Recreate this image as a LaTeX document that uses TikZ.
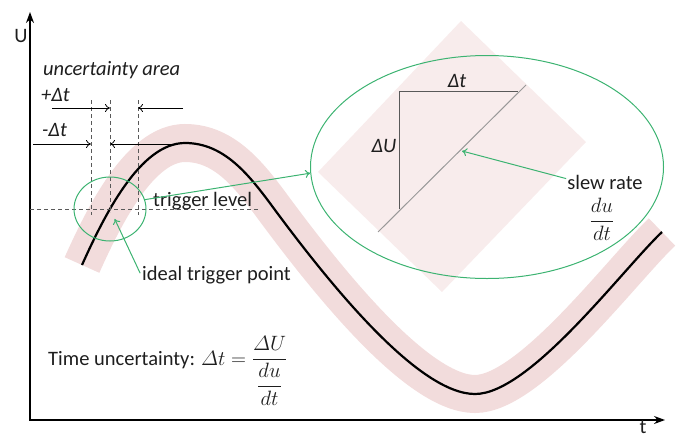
\documentclass[tikz,border=0pt]{standalone}
\usepackage{amsmath}
\usepackage{fontspec}
\setmainfont{Carlito}
\usetikzlibrary{arrows.meta,shapes.geometric,calc}
\definecolor{trgGreen}{RGB}{60,179,113}
\definecolor{bandPink}{RGB}{242,220,220}
\definecolor{zoomPink}{RGB}{248,236,236}
\definecolor{txtDark}{RGB}{30,30,30}

\begin{document}
\begin{tikzpicture}[x=1pt, y=-1pt, font=\fontsize{20.5}{24.6}\selectfont, text=txtDark]
\tikzset{
  band/.style ={draw=bandPink, line width=38pt, line cap=butt},
  wave/.style ={draw=black, line width=2.2pt},
  axis/.style ={line width=1.2pt, arrows={Stealth[length=11pt,width=8pt]-Stealth[length=11pt,width=8pt]}},
  guide/.style={draw=black!65, line width=0.9pt, dash pattern=on 4pt off 3pt},
  dimA/.style ={-{To[length=5pt,width=8pt]}, line width=0.8pt},
  gA/.style   ={-{To[length=5pt,width=8pt]}, draw=trgGreen, line width=1pt},
  ring/.style ={draw=trgGreen, line width=1pt, ellipse, inner sep=0pt},
  lbl/.style  ={inner sep=1pt, anchor=west}
}
\useasboundingbox (0,0) rectangle (682,439);
% zoomed slice of the band
\fill[zoomPink] (318,172) -- (461,21) -- (586,142) -- (442,292) -- cycle;
% signal with its uncertainty band
\coordinate (w0) at (82,265);
\coordinate (wpk) at (185,143);
\coordinate (wif) at (275,210);
\coordinate (wmin) at (475,394);
\coordinate (w1) at (662,232);
\foreach \st in {band,wave}
  \draw[\st] (w0) .. controls (104,216) and (140,143) .. (wpk)
                  .. controls (225,143) and (250,176) .. (wif)
                  .. controls (335,291) and (420,394) .. (wmin)
                  .. controls (530,394) and (622,270) .. (w1);
% axes
\coordinate (ytop) at (30,12);
\coordinate (xend) at (665,420);
\draw[axis] (ytop) |- (xend);
\node (U) at (21,36) {U};
\node[inner sep=1pt] (t) at (643,427) {t};
% uncertainty area
\foreach \x/\b [count=\i] in {91/215,110/212,138/215} {
  \coordinate (g\i) at (\x,100);
  \coordinate (g\i b) at (\x,\b);
  \draw[guide] (g\i) -- (g\i b);
}
\coordinate (lvl0) at (30,209);
\coordinate (lvl1) at (258,209);
\draw[guide] (lvl0) -- (lvl1);
\coordinate (a1) at (52,108);
\coordinate (a2) at (183,108);
\coordinate (a3) at (33,144);
\coordinate (a4) at (172,144);
\draw[dimA] (a1) -- (a1 -| g2);
\draw[dimA] (a2) -- (a2 -| g3);
\draw[dimA] (a3) -- (a3 -| g1);
\draw[dimA] (a4) -- (a4 -| g2);
\node[lbl] (ua) at (42,70) {\itshape uncertainty area};
\node[lbl] (pdt) at (40,95) {\itshape +Δt};
\node[lbl] (mdt) at (41,130) {\itshape -Δt};
\node[lbl] (tl) at (152,201) {trigger level};
\node[lbl] (itp) at (141,275) {ideal trigger point};
% trigger point and zoom
\coordinate (tp) at (110,209);
\node[ring, minimum width=72pt, minimum height=64pt] (trigC) at (tp) {};
\node[ring, minimum width=353pt, minimum height=223pt] (zoomE) at (487,167) {};
\draw[gA] (trigC.15) -- (zoomE.182);
\draw[gA, shorten >=11pt, shorten <=2pt] (itp.west) -- (tp);
% slope triangle
\coordinate (tA) at (399,91);
\coordinate (tB) at (399,209);
\coordinate (tC) at (518,91);
\draw[draw=black!65, line width=1pt] (tB) -- (tA) -- (tC);
\coordinate (dS) at (378,232);
\coordinate (dE) at (526,85);
\draw[draw=black!40, line width=1pt] (dS) -- (dE);
\node (zdt) at (457,81) {\itshape Δt};
\node (zdU) at (384,146) {\itshape ΔU};
\node[inner sep=1pt] (slew) at (605,182) {slew rate};
\node[inner sep=1pt] (slewfr) at (602,219) {$\dfrac{du}{dt}$};
\coordinate (sp) at (462,151);
\draw[gA] (slew.175) -- (sp);
% formula
\node[lbl, anchor=base west] (tu) at (47,365) {Time uncertainty: $\varDelta t = \dfrac{\varDelta U}{\dfrac{du}{dt}}$};
\end{tikzpicture}
\end{document}
